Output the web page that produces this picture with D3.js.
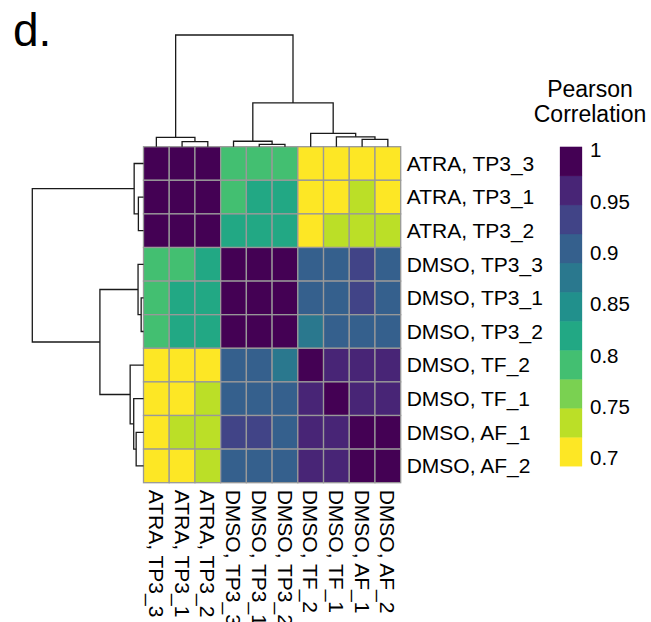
<!DOCTYPE html>
<html>
<head>
<meta charset="utf-8">
<script src="https://cdn.jsdelivr.net/npm/d3@7"></script>
<style>
  html, body { margin: 0; padding: 0; background: #fff; }
  svg text { font-family: "Liberation Sans", Arial, sans-serif; fill: #000; }
</style>
</head>
<body>
<svg id="chart" width="651" height="622"></svg>
<script>
// ---------------- DATA ----------------
const samples = ["ATRA, TP3_3", "ATRA, TP3_1", "ATRA, TP3_2",
                 "DMSO, TP3_3", "DMSO, TP3_1", "DMSO, TP3_2",
                 "DMSO, TF_2", "DMSO, TF_1", "DMSO, AF_1", "DMSO, AF_2"];

// Pearson correlation matrix (rows/cols in the order above)
const corrATRA_TP3_3 = [1.000, 0.990, 0.988, 0.790, 0.792, 0.788, 0.702, 0.705, 0.710, 0.703];
const corrATRA_TP3_1 = [0.990, 1.000, 0.993, 0.786, 0.820, 0.818, 0.708, 0.712, 0.738, 0.714];
const corrATRA_TP3_2 = [0.988, 0.993, 1.000, 0.815, 0.822, 0.825, 0.715, 0.735, 0.742, 0.730];
const corrDMSO_TP3_3 = [0.790, 0.786, 0.815, 1.000, 0.992, 0.990, 0.905, 0.900, 0.930, 0.902];
const corrDMSO_TP3_1 = [0.792, 0.820, 0.822, 0.992, 1.000, 0.995, 0.902, 0.908, 0.928, 0.910];
const corrDMSO_TP3_2 = [0.788, 0.818, 0.825, 0.990, 0.995, 1.000, 0.875, 0.895, 0.900, 0.898];
const corrDMSO_TF_2  = [0.702, 0.708, 0.715, 0.905, 0.902, 0.875, 1.000, 0.962, 0.958, 0.955];
const corrDMSO_TF_1  = [0.705, 0.712, 0.735, 0.900, 0.908, 0.895, 0.962, 1.000, 0.960, 0.962];
const corrDMSO_AF_1  = [0.710, 0.738, 0.742, 0.930, 0.928, 0.900, 0.958, 0.960, 1.000, 0.990];
const corrDMSO_AF_2  = [0.703, 0.714, 0.730, 0.902, 0.910, 0.898, 0.955, 0.962, 0.990, 1.000];
const matrix = [corrATRA_TP3_3, corrATRA_TP3_1, corrATRA_TP3_2, corrDMSO_TP3_3, corrDMSO_TP3_1,
                corrDMSO_TP3_2, corrDMSO_TF_2, corrDMSO_TF_1, corrDMSO_AF_1, corrDMSO_AF_2];

// Hierarchical clustering tree (relative merge heights), same for rows and columns
const tree = {h: 1.0, children: [
  {h: 0.084, children: [{leaf: "ATRA, TP3_3"},
                        {h: 0.046, children: [{leaf: "ATRA, TP3_1"}, {leaf: "ATRA, TP3_2"}]}]},
  {h: 0.392, children: [
    {h: 0.049, children: [{leaf: "DMSO, TP3_3"},
                          {h: 0.021, children: [{leaf: "DMSO, TP3_1"}, {leaf: "DMSO, TP3_2"}]}]},
    {h: 0.120, children: [{leaf: "DMSO, TF_2"},
                          {h: 0.088, children: [{leaf: "DMSO, TF_1"},
                                                {h: 0.066, children: [{leaf: "DMSO, AF_1"}, {leaf: "DMSO, AF_2"}]}]}]}
  ]}
]};

// Legend
const legendTicks = [1, 0.95, 0.9, 0.85, 0.8, 0.75, 0.7];
const legendTickLabels = ["1", "0.95", "0.9", "0.85", "0.8", "0.75", "0.7"];
const colorRange = [0.692, 1.003];
const viridis11 = ["#FDE725", "#BBDF27", "#7AD151", "#43BF71", "#22A884", "#21908C",
                   "#2A788E", "#35608D", "#414487", "#482576", "#440154"];

// ---------------- DRAW ----------------
const svg = d3.select("#chart");
const font = '"Liberation Sans", Arial, sans-serif';

const hmLeft = 143.5, hmRight = 400.7, hmTop = 146.7, hmBottom = 482.7;
const x = d3.scaleBand().domain(samples).range([hmLeft, hmRight]);
const y = d3.scaleBand().domain(samples).range([hmTop, hmBottom]);
const color = d3.scaleQuantize().domain(colorRange).range(viridis11);

// cells
const cells = [];
matrix.forEach((row, i) => row.forEach((v, j) => cells.push({r: samples[i], c: samples[j], v})));
svg.append("g").selectAll("rect").data(cells).join("rect")
  .attr("x", d => x(d.c)).attr("y", d => y(d.r))
  .attr("width", x.bandwidth()).attr("height", y.bandwidth())
  .attr("fill", d => color(d.v))
  .attr("stroke", "#999999").attr("stroke-width", 1.3);

// dendrograms
function layout(node, pos) {
  if (node.leaf) { node.p = pos(node.leaf); node.hh = 0; return; }
  node.children.forEach(ch => layout(ch, pos));
  node.p = d3.mean(node.children, ch => ch.p);
  node.hh = node.h;
}
function collect(node, out) {
  if (node.leaf) return;
  out.push(node);
  node.children.forEach(ch => collect(ch, out));
}

// column dendrogram (top)
const colTree = JSON.parse(JSON.stringify(tree));
layout(colTree, s => x(s) + x.bandwidth() / 2);
const hTop = d3.scaleLinear().domain([0, 1]).range([hmTop, 35]);
const colNodes = []; collect(colTree, colNodes);
const gTop = svg.append("g").attr("fill", "none").attr("stroke", "#1a1a1a").attr("stroke-width", 1.3);
colNodes.forEach(n => {
  const [a, b] = n.children;
  gTop.append("path").attr("d",
    `M${a.p},${hTop(a.hh)}V${hTop(n.hh)}H${b.p}V${hTop(b.hh)}`);
});

// row dendrogram (left)
const rowTree = JSON.parse(JSON.stringify(tree));
layout(rowTree, s => y(s) + y.bandwidth() / 2);
const hLeft = d3.scaleLinear().domain([0, 1]).range([hmLeft, 32.3]);
const rowNodes = []; collect(rowTree, rowNodes);
const gLeft = svg.append("g").attr("fill", "none").attr("stroke", "#1a1a1a").attr("stroke-width", 1.3);
rowNodes.forEach(n => {
  const [a, b] = n.children;
  gLeft.append("path").attr("d",
    `M${hLeft(a.hh)},${a.p}H${hLeft(n.hh)}V${b.p}H${hLeft(b.hh)}`);
});

// row labels
svg.append("g").selectAll("text").data(samples).join("text")
  .attr("x", hmRight + 6)
  .attr("y", d => y(d) + y.bandwidth() / 2)
  .attr("dy", "0.35em")
  .style("font-size", "21px")
  .text(d => d);

// column labels (rotated)
svg.append("g").selectAll("text").data(samples).join("text")
  .attr("transform", d => `translate(${x(d) + x.bandwidth() / 2},${hmBottom + 7}) rotate(90)`)
  .attr("dy", "0.35em")
  .style("font-size", "21px")
  .text(d => d);

// legend
const legY = d3.scaleLinear().domain([0.7, 1]).range([458, 150]);
const gLeg = svg.append("g");
gLeg.selectAll("rect").data(viridis11).join("rect")
  .attr("x", 560).attr("width", 22)
  .attr("y", c => legY(color.invertExtent(c)[1]))
  .attr("height", c => legY(color.invertExtent(c)[0]) - legY(color.invertExtent(c)[1]))
  .attr("fill", c => c)
  .attr("stroke", c => c).attr("stroke-width", 0.3);
gLeg.selectAll("text.tick").data(legendTicks).join("text")
  .attr("class", "tick")
  .attr("x", 590).attr("y", v => legY(v)).attr("dy", "0.35em")
  .style("font-size", "20.5px")
  .text((v, i) => legendTickLabels[i]);
gLeg.append("text").attr("x", 590).attr("y", 96.5).attr("text-anchor", "middle")
  .style("font-size", "23px").text("Pearson");
gLeg.append("text").attr("x", 590).attr("y", 121.5).attr("text-anchor", "middle")
  .style("font-size", "23px").text("Correlation");

// panel letter
svg.append("text").attr("x", 13).attr("y", 46).style("font-size", "46px").text("d.");
</script>
</body>
</html>
